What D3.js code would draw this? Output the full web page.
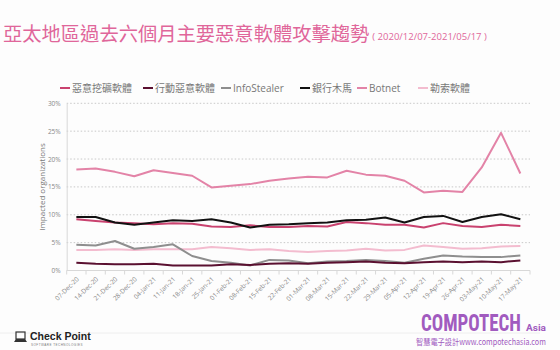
<!DOCTYPE html>
<html><head><meta charset="utf-8">
<script src="https://cdn.jsdelivr.net/npm/d3@7"></script>
<style>
html,body{margin:0;padding:0;background:#fdfdfd;}
svg{display:block;}
</style></head>
<body>
<svg id="c" width="560" height="350"></svg>
<script>
const dates = ["07-Dec-20","14-Dec-20","21-Dec-20","28-Dec-20","04-Jan-21","11-Jan-21","18-Jan-21","25-Jan-21","01-Feb-21","08-Feb-21","15-Feb-21","22-Feb-21","01-Mar-21","08-Mar-21","15-Mar-21","22-Mar-21","29-Mar-21","05-Apr-21","12-Apr-21","19-Apr-21","26-Apr-21","03-May-21","10-May-21","17-May-21"];
const seriesNames = ["惡意挖礦軟體","行動惡意軟體","InfoStealer","銀行木馬","Botnet","勒索軟體"];
const cryptominer = [9.2,8.9,8.6,8.5,8.3,8.5,8.4,7.9,7.8,8.1,7.8,7.8,8.0,7.9,8.7,8.5,8.2,8.2,7.7,8.5,8.0,7.8,8.2,8.0];
const mobile = [1.4,1.2,1.1,1.1,1.2,0.9,0.9,0.9,1.1,1.0,1.2,1.3,1.2,1.4,1.5,1.6,1.4,1.3,1.5,1.6,1.5,1.6,1.5,1.8];
const infostealer = [4.6,4.5,5.3,3.9,4.2,4.7,2.6,1.7,1.4,0.9,1.9,1.8,1.3,1.6,1.7,1.9,1.7,1.4,2.1,2.7,2.5,2.4,2.4,2.7];
const banking = [9.6,9.6,8.6,8.2,8.6,9.0,8.9,9.2,8.6,7.7,8.2,8.3,8.5,8.6,9.0,9.1,9.5,8.6,9.6,9.8,8.7,9.6,10.1,9.2];
const botnet = [18.1,18.3,17.7,16.9,18.0,17.5,17.0,14.9,15.2,15.5,16.1,16.5,16.8,16.7,17.9,17.2,17.0,16.1,14.0,14.3,14.1,18.5,24.7,17.4];
const ransomware = [3.7,3.7,3.8,3.7,3.8,3.8,3.8,4.2,4.0,3.7,3.8,3.5,3.3,3.5,3.6,3.9,3.6,3.7,4.5,4.2,3.9,4.0,4.3,4.4];
const yTicks = [0,5,10,15,20,25,30];

const colors = ["#c9426f","#5a1030","#8e8e8e","#111111","#e383a7","#f3bccf"];
const values = [cryptominer, mobile, infostealer, banking, botnet, ransomware];

const svg = d3.select("#c");
const cjk = "'Noto Sans CJK TC','Noto Sans CJK SC',sans-serif";
const latin = "'Open Sans','Noto Sans CJK TC',sans-serif";

// title
const t = svg.append("text").attr("x",3).attr("y",41)
  .attr("font-family",cjk).attr("fill","#e0669a");
t.append("tspan").attr("font-size",19.3).text("亞太地區過去六個月主要惡意軟體攻擊趨勢");
t.append("tspan").attr("font-size",9.5).attr("dx",3).attr("dy",-1).attr("font-family",latin).text("( 2020/12/07-2021/05/17 )");

// scales
const x = d3.scalePoint().domain(dates).range([66.7,530]).padding(0.5);
const y = d3.scaleLinear().domain([0,30]).range([270.5,103.3]);

// grid
svg.append("g").selectAll("line").data(yTicks.filter(d=>d>0)).join("line")
  .attr("x1",66.7).attr("x2",530).attr("y1",d=>y(d)).attr("y2",d=>y(d))
  .attr("stroke","#c8c8c8").attr("stroke-width",1).attr("stroke-dasharray","1.5,2");

// y axis
const ya = svg.append("g").attr("transform","translate(66.7,0)")
  .call(d3.axisLeft(y).tickValues(yTicks).tickFormat(d=>d+"%").tickSize(0).tickPadding(6));
ya.select(".domain").attr("stroke","#d8d8d8");
ya.selectAll("text").attr("font-family",latin).attr("font-size",6.5).attr("fill","#888");

// x axis
const step = x.step();
const xa = svg.append("g").attr("transform","translate(0,270.5)");
xa.append("line").attr("x1",66.7).attr("x2",530).attr("stroke","#d8d8d8");
xa.selectAll("line.tk").data(dates).join("line").attr("class","tk")
  .attr("x1",d=>x(d)-step/2).attr("x2",d=>x(d)-step/2).attr("y1",0).attr("y2",4)
  .attr("stroke","#d8d8d8");
xa.append("line").attr("x1",530).attr("x2",530).attr("y1",0).attr("y2",4).attr("stroke","#d8d8d8");
xa.selectAll("text").data(dates).join("text")
  .attr("transform",d=>`translate(${x(d)+3},${9}) rotate(-45)`)
  .attr("text-anchor","end").attr("font-family",latin).attr("font-size",6.5).attr("fill","#888")
  .text(d=>d);

// y label
svg.append("text").attr("transform","translate(45,187) rotate(-90)")
  .attr("text-anchor","middle").attr("font-family",latin).attr("font-size",8).attr("fill","#777")
  .text("Impacted organizations");

// lines
const line = d3.line().x((d,i)=>x(dates[i])).y(d=>y(d));
const order = [5,2,1,0,4,3];
svg.append("g").selectAll("path").data(order).join("path")
  .attr("d",k=>line(values[k])).attr("fill","none")
  .attr("stroke",k=>colors[k]).attr("stroke-width",2).attr("stroke-linejoin","round");

// legend
const legX = [60,143,221,300,357,418];
const lg = svg.append("g").attr("transform","translate(0,88)");
seriesNames.forEach((n,i)=>{
  lg.append("line").attr("x1",legX[i]).attr("x2",legX[i]+10).attr("stroke",colors[i]).attr("stroke-width",2);
  lg.append("text").attr("x",legX[i]+12).attr("y",3.5).attr("font-family",/[A-Za-z]/.test(n)?latin:cjk)
    .attr("font-size",10).attr("fill","#777").text(n);
});

// footer
svg.append("line").attr("x1",0).attr("x2",540).attr("y1",333).attr("y2",333).attr("stroke","#eeeeee");
const cp = svg.append("g");
cp.append("rect").attr("x",16).attr("y",332).attr("width",9).attr("height",7).attr("fill","none").attr("stroke","#333").attr("stroke-width",1.2);
cp.append("path").attr("d","M14,342 L27,342 L25,339 L16,339 Z").attr("fill","#333");
cp.append("text").attr("x",30).attr("y",340).attr("font-family","'Liberation Sans',Arial,sans-serif").attr("font-weight","bold").attr("font-size",10.5).attr("fill","#222").text("Check Point");
cp.append("text").attr("x",31).attr("y",345.5).attr("font-family","'Liberation Sans',sans-serif").attr("font-size",3).attr("fill","#777").attr("letter-spacing",0.5).text("SOFTWARE TECHNOLOGIES");

const purple = "#a15bbf";
function fitText(txt, x0, y0, w, size, family, weight){
  const el = svg.append("text").attr("font-family",family).attr("font-weight",weight)
    .attr("font-size",size).attr("fill",purple).text(txt);
  const nat = el.node().getComputedTextLength();
  el.attr("transform",`translate(${x0},${y0}) scale(${w/nat},1)`);
  return el;
}
fitText("COMPOTECH",421,331,100,23,"'Roboto Condensed','Liberation Sans Narrow','Roboto',sans-serif","bold");
fitText("Asia",526,331,20,9,"'Liberation Sans Narrow','Roboto',sans-serif","bold");
fitText("智慧電子設計www.compotechasia.com",416,345,130,8.5,cjk,"normal");
</script>
</body></html>
